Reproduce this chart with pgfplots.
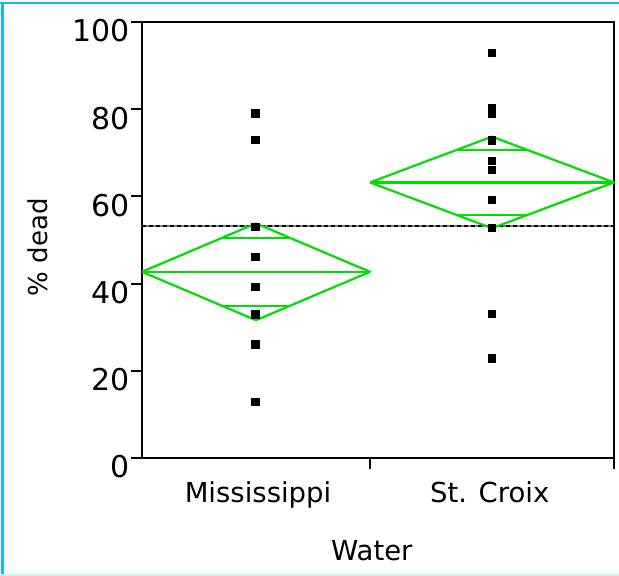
\documentclass[border=0pt]{standalone}
\usepackage{pgfplots}
\pgfplotsset{compat=1.18}
\usepackage{fontspec}
\setmainfont{DejaVu Sans}
\definecolor{diamond}{HTML}{00DD00}
\definecolor{frameblue}{HTML}{19B9E9}
\definecolor{framefaint}{HTML}{CDEFF5}

\begin{document}
\begin{tikzpicture}
\path[use as bounding box] (0,0) rectangle (619pt,576pt);
\fill[white] (0,0) rectangle (619pt,576pt);
% window frame
\draw[frameblue, line width=2.6pt] (0,572.8pt) -- (619pt,572.8pt);
\draw[frameblue, line width=2.6pt] (2.2pt,0) -- (2.2pt,572.8pt);
\draw[framefaint, line width=1.4pt] (0,0.8pt) -- (619pt,0.8pt);

\begin{axis}[
  at={(142pt,118pt)}, anchor=south west,
  scale only axis, width=472pt, height=436pt,
  xmin=0, xmax=1, ymin=0, ymax=100,
  clip=false,
  axis line style={line width=2pt, black},
  tick style={line width=2pt, black},
  tick align=outside,
  major tick length=11pt,
  ytick={0,20,40,60,80,100},
  ytick pos=left,
  xtick={0.483,1},
  xticklabels={},
  xtick pos=bottom,
  /pgf/number format/assume math mode=true,
  yticklabel style={font=\fontsize{30}{36}\selectfont, inner sep=1pt, yshift=-9pt},
  xlabel={Water},
  xlabel style={at={(axis description cs:0.487,-0.234)}, anchor=base, font=\fontsize{27.5}{33}\selectfont},
  ylabel={\% dead},
  ylabel style={at={(axis description cs:-0.2214,0.483)}, anchor=center, font=\fontsize{26}{31}\selectfont},
]
% grand mean
\addplot[color=gray, line width=1.4pt] coordinates {(0,53.2) (1,53.2)};
\addplot[color=black, line width=1.4pt, dash pattern=on 4pt off 3pt] coordinates {(0,53.2) (1,53.2)};

% means diamond: Mississippi
\addplot[diamond, line width=2.2pt, line join=round] coordinates {(0,42.7) (0.2415,53.8) (0.483,42.7) (0.2415,31.6) (0,42.7)};
\addplot[diamond, line width=2.2pt] coordinates {(0,42.7) (0.483,42.7)};
\addplot[diamond, line width=2.2pt] coordinates {(0.170,50.5) (0.313,50.5)};
\addplot[diamond, line width=2.2pt] coordinates {(0.170,34.9) (0.313,34.9)};

% means diamond: St. Croix
\addplot[diamond, line width=2.2pt, line join=round] coordinates {(0.483,63.2) (0.7415,73.7) (1,63.2) (0.7415,52.7) (0.483,63.2)};
\addplot[diamond, line width=2.2pt] coordinates {(0.483,63.2) (1,63.2)};
\addplot[diamond, line width=2.2pt] coordinates {(0.665,70.6) (0.818,70.6)};
\addplot[diamond, line width=2.2pt] coordinates {(0.665,55.8) (0.818,55.8)};

% observations
\addplot[only marks, mark=square*, mark size=3.6pt, black] coordinates {
  (0.240,79.1) (0.240,73.0) (0.240,53.0) (0.240,46.2)
  (0.240,39.3) (0.240,33.0) (0.240,26.1) (0.240,13.0)
};
\addplot[only marks, mark=square*, mark size=3.6pt, black] coordinates {
  (0.7415,93.0) (0.7415,80.4) (0.7415,78.9) (0.7415,72.9) (0.7415,68.2)
  (0.7415,66.1) (0.7415,59.2) (0.7415,52.9) (0.7415,33.1) (0.7415,22.9)
};

% group names
\node[anchor=base, font=\fontsize{27.5}{33}\selectfont] at (axis cs:0.2458,-10.32) {Mississippi};
\node[anchor=base, font=\fontsize{27.5}{33}\selectfont] at (axis cs:0.7367,-10.32) {St. Croix};
\end{axis}
\end{tikzpicture}
\end{document}
